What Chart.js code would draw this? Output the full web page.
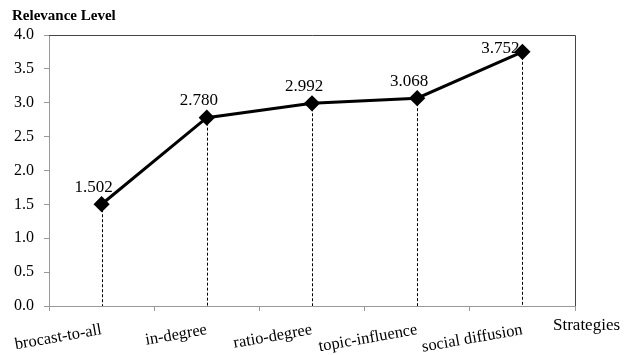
<!DOCTYPE html>
<html>
<head>
<meta charset="utf-8">
<script src="https://cdn.jsdelivr.net/npm/chart.js@4/dist/chart.umd.min.js"></script>
<style>
  html, body { margin: 0; padding: 0; background: #fff; }
  #wrap { width: 624px; height: 355px; }
</style>
</head>
<body>
<div id="wrap"><canvas id="relevanceChart" width="624" height="355"></canvas></div>
<script>
// Data
const strategies = ['brocast-to-all', 'in-degree', 'ratio-degree', 'topic-influence', 'social diffusion'];
const relevance = [1.502, 2.780, 2.992, 3.068, 3.752];
const yTicks = [0, 0.5, 1, 1.5, 2, 2.5, 3, 3.5, 4];

const serif = '"Liberation Serif", "Times New Roman", serif';

// dashed drop lines, frame, value labels and axis titles
const extras = {
    id: 'extras',
    beforeDatasetsDraw(chart) {
        const ctx = chart.ctx;
        const area = chart.chartArea;
        const meta = chart.getDatasetMeta(0);
        ctx.save();
        ctx.strokeStyle = '#000';
        ctx.lineWidth = 1;
        ctx.setLineDash([3, 2]);
        meta.data.forEach(function(pt) {
            ctx.beginPath();
            ctx.moveTo(Math.round(pt.x) + 0.5, pt.y);
            ctx.lineTo(Math.round(pt.x) + 0.5, area.bottom);
            ctx.stroke();
        });
        ctx.setLineDash([]);
        // top and right border
        ctx.strokeStyle = '#444';
        ctx.beginPath();
        ctx.moveTo(area.left, area.top + 0.5);
        ctx.lineTo(area.right + 0.5, area.top + 0.5);
        ctx.lineTo(area.right + 0.5, area.bottom);
        ctx.stroke();
        ctx.restore();
    },
    afterDatasetsDraw(chart) {
        const ctx = chart.ctx;
        const meta = chart.getDatasetMeta(0);
        ctx.save();
        ctx.fillStyle = '#000';
        ctx.font = '17px ' + serif;
        ctx.textAlign = 'center';
        ctx.textBaseline = 'middle';
        meta.data.forEach(function(pt, i) {
            const last = i === meta.data.length - 1;
            const dx = last ? -22 : -8;
            const dy = last ? -3 : -17;
            ctx.fillText(relevance[i].toFixed(3), pt.x + dx, pt.y + dy);
        });
        ctx.font = 'bold 15px ' + serif;
        ctx.textAlign = 'left';
        ctx.fillText('Relevance Level', 12, 16);
        ctx.font = '17px ' + serif;
        ctx.fillText('Strategies', 553, 326);
        ctx.restore();
    }
};

new Chart(document.getElementById('relevanceChart'), {
    type: 'line',
    data: {
        labels: strategies,
        datasets: [{
            data: relevance,
            borderColor: '#000',
            backgroundColor: '#000',
            borderWidth: 3,
            pointStyle: 'rectRot',
            pointRadius: 6,
            pointHoverRadius: 6,
            tension: 0
        }]
    },
    options: {
        responsive: false,
        animation: false,
        layout: { padding: { top: 35, right: 49, left: 0, bottom: 0 } },
        plugins: {
            legend: { display: false },
            tooltip: { enabled: false }
        },
        scales: {
            x: {
                offset: true,
                grid: { offset: true, drawOnChartArea: false, tickLength: 5, color: '#999' },
                border: { color: '#999' },
                ticks: {
                    color: '#000',
                    font: { family: serif, size: 16.5 },
                    autoSkip: false,
                    minRotation: 10,
                    maxRotation: 10,
                    padding: 9
                },
                afterFit(scale) { scale.height = 49; }
            },
            y: {
                min: 0,
                max: 4,
                afterBuildTicks(scale) {
                    scale.ticks = yTicks.map(function(v) { return { value: v }; });
                },
                grid: { drawOnChartArea: false, tickLength: 5, color: '#999' },
                border: { color: '#999' },
                ticks: {
                    color: '#000',
                    font: { family: serif, size: 16 },
                    padding: 10,
                    callback: function(v) { return Number(v).toFixed(1); }
                },
                afterFit(scale) { scale.width = 49; }
            }
        }
    },
    plugins: [extras]
});
</script>
</body>
</html>
